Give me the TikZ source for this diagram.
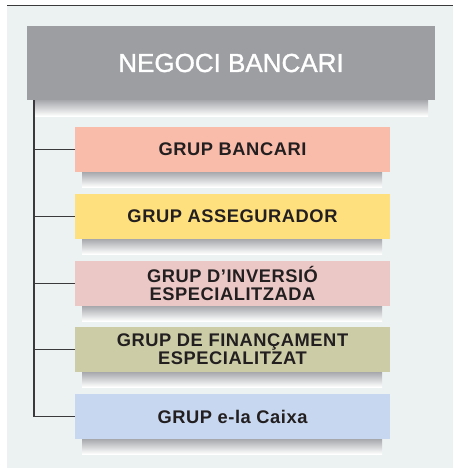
\documentclass[tikz,border=0pt]{standalone}
\usepackage{fontspec}
\setmainfont{Liberation Sans}
\newfontfamily\hdrfont[FakeBold=1.3]{Liberation Sans}
\newfontfamily\grpfont[LetterSpace=3]{Liberation Sans Bold}
\definecolor{panel}{HTML}{ECF2F2}
\definecolor{hdrgray}{HTML}{9D9EA2}
\definecolor{shadowgray}{HTML}{A6A8AC}
\definecolor{linecol}{HTML}{3A3A3C}
\definecolor{txt}{HTML}{231F20}
\definecolor{cA}{HTML}{F9BCAA}
\definecolor{cB}{HTML}{FFE07E}
\definecolor{cC}{HTML}{EBC8C6}
\definecolor{cD}{HTML}{CCCDA7}
\definecolor{cE}{HTML}{C6D7EF}
\begin{document}
\begin{tikzpicture}[x=1pt,y=-1pt,
  hdrbox/.style={fill=hdrgray,text=white,minimum width=408pt,minimum height=74pt,inner sep=0pt,
    font=\hdrfont\fontsize{26}{30}\selectfont},
  grpbox/.style={minimum width=315pt,minimum height=45pt,inner sep=0pt,align=center,text=txt,
    font=\grpfont\fontsize{18.3}{18}\selectfont},
  shadowbar/.style={top color=shadowgray,bottom color=white},
  conn/.style={draw=linecol,line width=1.5pt}]
\useasboundingbox (0,0) rectangle (453,469);
\fill[panel] (7,6) rectangle (453,468);
\draw[linecol,line width=1.2pt] (7,5.5) -- (453,5.5);
% header
\node[hdrbox] (hdr) at (231,63) {NEGOCI BANCARI};
\shade[shadowbar] (35,100) rectangle (428,116);
% group shadows
\foreach \y in {149.5,216.5,283.5,349.5,416.5}{
  \shade[shadowbar] (82,\y+22.5) rectangle (382,\y+37.5);
}
% groups
\node[grpbox,fill=cA] (g1) at (232.5,149.5) {GRUP BANCARI};
\node[grpbox,fill=cB] (g2) at (232.5,216.5) {GRUP ASSEGURADOR};
\node[grpbox,fill=cC] (g3) at (232.5,283.5) {GRUP D’INVERSIÓ\\ESPECIALITZADA};
\node[grpbox,fill=cD] (g4) at (232.5,349.5) {GRUP DE FINANÇAMENT\\ESPECIALITZAT};
\node[grpbox,fill=cE] (g5) at (232.5,416.5) {GRUP e-la Caixa};
% connectors
\coordinate (trunk) at ([xshift=7pt]hdr.south west);
\draw[conn] (trunk) |- (g5.west);
\foreach \g in {g1,g2,g3,g4}{
  \draw[conn] (trunk|-\g.west) -- (\g.west);
}
\end{tikzpicture}
\end{document}
